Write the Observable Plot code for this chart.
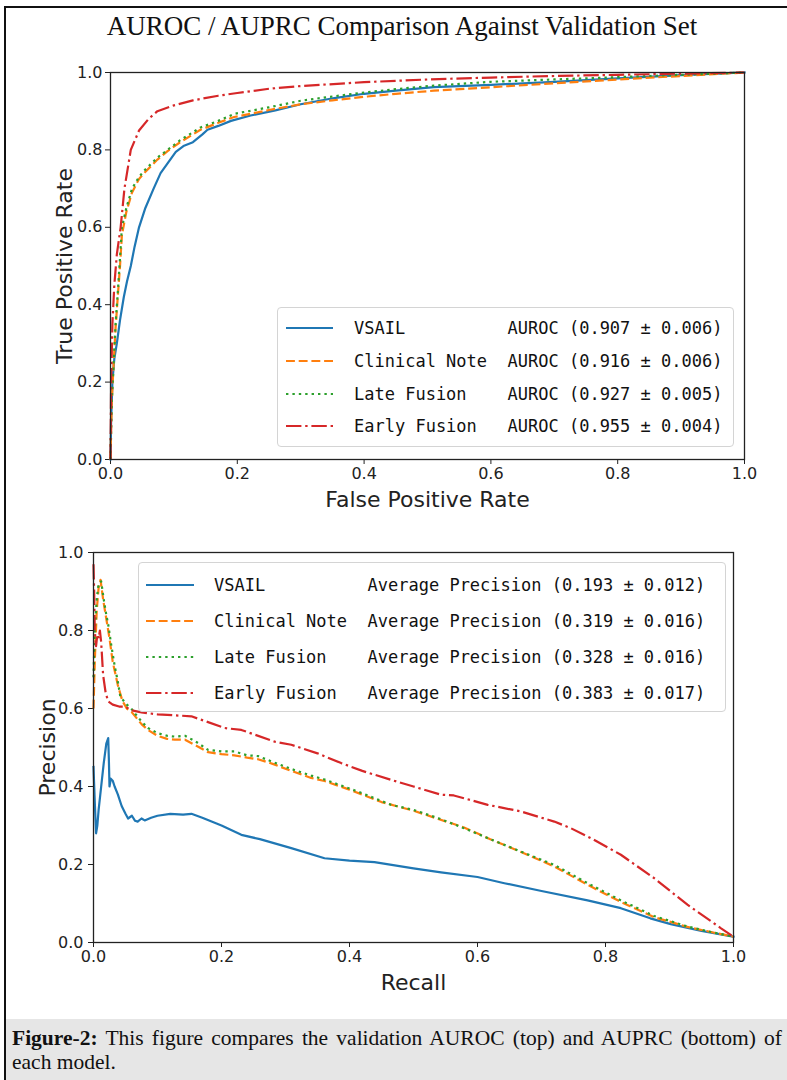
<!DOCTYPE html>
<html>
<head>
<meta charset="utf-8">
<script src="https://cdn.jsdelivr.net/npm/d3@7"></script>
<script src="https://cdn.jsdelivr.net/npm/@observablehq/plot@0.6"></script>
<style>
html, body { margin: 0; padding: 0; background: #fff; }
body { width: 787px; height: 1080px; position: relative; overflow: hidden; }
#border { position: absolute; left: 4px; top: 6px; right: -10px; bottom: -10px; border-left: 2px solid #111; border-top: 2px solid #111; }
#title { position: absolute; left: 0; width: 804px; top: 12.5px; text-align: center; white-space: nowrap;
  font-family: "Liberation Serif", serif; font-size: 27px; line-height: 27px; color: #111; }
#capbox { position: absolute; left: 6px; top: 1019px; right: 0; bottom: 0; background: #e6e6e6; }
.capline { position: absolute; left: 12px; width: 770px; font-family: "Liberation Serif", serif; font-size: 21.5px; line-height: 24px; color: #111; white-space: nowrap; }
#cap1 { top: 1025.7px; text-align: justify; text-align-last: justify; white-space: normal; }
#cap2 { top: 1049.7px; }
.chart { position: absolute; left: 0; }
.legend { position: absolute; border: 1px solid #d4d4d4; border-radius: 4px; background: rgba(255,255,255,0.85); box-sizing: border-box; }
.ltext { position: absolute; font-family: "DejaVu Sans Mono", monospace; font-size: 17px; white-space: pre; color: #111; }
</style>
</head>
<body>
<div id="border"></div>
<div id="title"></div>
<div id="roc" class="chart" style="top:50px"></div>
<div id="pr" class="chart" style="top:530px"></div>
<div id="capbox"></div>
<div id="cap1" class="capline"></div>
<div id="cap2" class="capline"></div>
<script>
// ---------- text ----------
const titleText = "AUROC / AUPRC Comparison Against Validation Set";
const captionBold = "Figure-2:";
const captionLine1 = " This figure compares the validation AUROC (top) and AUPRC (bottom) of";
const captionLine2 = "each model.";
const rocXLabel = "False Positive Rate";
const rocYLabel = "True Positive Rate";
const prXLabel = "Recall";
const prYLabel = "Precision";
const axisTicks = [0, 0.2, 0.4, 0.6, 0.8, 1.0];

// ---------- series ----------
const seriesNames = ["VSAIL", "Clinical Note", "Late Fusion", "Early Fusion"];
const seriesColors = ["#1f77b4", "#ff7f0e", "#2ca02c", "#d62728"];
const seriesDash = [null, "8.9,3.8", "2.4,4", "15.4,3.8,2.4,3.8"];
const aurocMean = [0.907, 0.916, 0.927, 0.955];
const aurocStd = [0.006, 0.006, 0.005, 0.004];
const apMean = [0.193, 0.319, 0.328, 0.383];
const apStd = [0.012, 0.016, 0.016, 0.017];

// ---------- ROC curves ----------
const rocVsailFpr = [0,0.001,0.003,0.006,0.01,0.015,0.021,0.026,0.032,0.038,0.045,0.055,0.068,0.079,0.09,0.103,0.115,0.13,0.145,0.153,0.17,0.19,0.221,0.26,0.3,0.353,0.4,0.45,0.51,0.6,0.7,0.8,0.9,1];
const rocVsailTpr = [0,0.1,0.2,0.26,0.3,0.36,0.42,0.46,0.5,0.55,0.6,0.65,0.7,0.74,0.765,0.795,0.81,0.82,0.84,0.852,0.862,0.875,0.889,0.902,0.918,0.934,0.945,0.953,0.962,0.968,0.976,0.985,0.993,1];
const rocNoteFpr = [0,0.002,0.005,0.008,0.011,0.015,0.018,0.025,0.034,0.045,0.053,0.074,0.09,0.11,0.142,0.17,0.195,0.25,0.3,0.35,0.405,0.45,0.51,0.6,0.7,0.8,0.9,1];
const rocNoteTpr = [0,0.15,0.25,0.34,0.41,0.5,0.58,0.64,0.69,0.725,0.74,0.775,0.797,0.82,0.852,0.87,0.885,0.903,0.918,0.928,0.938,0.945,0.953,0.962,0.972,0.982,0.991,1];
const rocLateFpr = [0,0.002,0.005,0.008,0.011,0.015,0.018,0.025,0.034,0.045,0.053,0.074,0.09,0.11,0.142,0.17,0.195,0.25,0.3,0.35,0.405,0.45,0.51,0.6,0.7,0.8,0.9,1];
const rocLateTpr = [0,0.15,0.25,0.35,0.42,0.52,0.6,0.65,0.7,0.73,0.746,0.78,0.8,0.825,0.858,0.875,0.893,0.91,0.927,0.938,0.949,0.957,0.966,0.976,0.982,0.988,0.994,1];
const rocEarlyFpr = [0,0.001,0.003,0.006,0.01,0.016,0.022,0.032,0.045,0.06,0.074,0.1,0.13,0.17,0.2,0.25,0.3,0.4,0.5,0.6,0.7,0.8,0.9,1];
const rocEarlyTpr = [0,0.2,0.35,0.45,0.53,0.6,0.7,0.8,0.85,0.88,0.9,0.915,0.928,0.94,0.947,0.958,0.965,0.975,0.982,0.987,0.991,0.994,0.997,1];

// ---------- PR curves ----------
const prVsailRec = [0,0.002,0.004,0.006,0.008,0.012,0.016,0.02,0.023,0.024,0.025,0.027,0.03,0.033,0.038,0.044,0.05,0.054,0.06,0.065,0.069,0.075,0.08,0.09,0.1,0.12,0.14,0.153,0.17,0.2,0.231,0.26,0.309,0.361,0.4,0.439,0.5,0.543,0.6,0.642,0.7,0.772,0.824,0.87,0.902,0.95,1];
const prVsailPrec = [0.45,0.36,0.28,0.3,0.34,0.4,0.46,0.51,0.524,0.47,0.4,0.42,0.415,0.4,0.38,0.35,0.33,0.318,0.325,0.312,0.31,0.318,0.313,0.32,0.325,0.33,0.328,0.33,0.32,0.3,0.276,0.265,0.242,0.216,0.21,0.206,0.19,0.18,0.168,0.152,0.132,0.108,0.088,0.062,0.047,0.03,0.015];
const prNoteRec = [0,0.002,0.005,0.008,0.011,0.015,0.02,0.025,0.03,0.038,0.045,0.052,0.06,0.075,0.085,0.1,0.115,0.127,0.143,0.16,0.179,0.2,0.22,0.24,0.257,0.28,0.309,0.34,0.361,0.4,0.45,0.5,0.54,0.579,0.62,0.668,0.72,0.772,0.824,0.876,0.928,0.97,1];
const prNotePrec = [0.6,0.72,0.85,0.91,0.93,0.88,0.83,0.78,0.72,0.66,0.62,0.6,0.59,0.56,0.545,0.53,0.522,0.52,0.52,0.505,0.488,0.483,0.48,0.474,0.47,0.458,0.44,0.422,0.414,0.392,0.36,0.338,0.316,0.295,0.265,0.232,0.195,0.148,0.104,0.065,0.04,0.025,0.015];
const prLateRec = [0,0.002,0.005,0.008,0.012,0.016,0.02,0.023,0.028,0.033,0.038,0.042,0.047,0.052,0.059,0.066,0.075,0.085,0.1,0.115,0.127,0.143,0.16,0.179,0.2,0.22,0.24,0.257,0.28,0.309,0.34,0.361,0.413,0.465,0.5,0.54,0.579,0.62,0.668,0.72,0.772,0.824,0.876,0.928,0.97,1];
const prLatePrec = [0.68,0.8,0.88,0.92,0.926,0.88,0.84,0.815,0.76,0.71,0.669,0.63,0.62,0.61,0.6,0.585,0.567,0.55,0.537,0.53,0.528,0.53,0.515,0.494,0.49,0.49,0.48,0.478,0.463,0.445,0.428,0.418,0.387,0.353,0.34,0.318,0.293,0.265,0.233,0.199,0.152,0.108,0.068,0.041,0.025,0.015];
const prEarlyRec = [0,0.001,0.002,0.004,0.006,0.008,0.01,0.012,0.015,0.019,0.023,0.03,0.04,0.049,0.06,0.075,0.1,0.153,0.205,0.231,0.283,0.309,0.35,0.387,0.42,0.465,0.5,0.543,0.563,0.616,0.668,0.72,0.746,0.78,0.824,0.876,0.928,0.98,1];
const prEarlyPrec = [0.97,0.9,0.8,0.76,0.79,0.78,0.8,0.77,0.686,0.64,0.618,0.61,0.605,0.605,0.595,0.59,0.585,0.58,0.55,0.545,0.515,0.507,0.485,0.46,0.44,0.417,0.4,0.379,0.377,0.353,0.336,0.31,0.293,0.265,0.225,0.165,0.097,0.037,0.015];

const rocX = [rocVsailFpr, rocNoteFpr, rocLateFpr, rocEarlyFpr];
const rocY = [rocVsailTpr, rocNoteTpr, rocLateTpr, rocEarlyTpr];
const prX = [prVsailRec, prNoteRec, prLateRec, prEarlyRec];
const prY = [prVsailPrec, prNotePrec, prLatePrec, prEarlyPrec];

const toRows = (xs, ys) => xs.map((x, j) => ({x, y: ys[j]}));
const fmt = d3.format(".1f");

function curveMarks(X, Y) {
  return seriesNames.map((name, i) => Plot.line(toRows(X[i], Y[i]), {
    x: "x", y: "y", stroke: seriesColors[i], strokeWidth: 2.2,
    strokeDasharray: seriesDash[i] || undefined,
    strokeLinecap: seriesDash[i] ? "butt" : "square", strokeLinejoin: "round"
  }));
}

function makeChart({ml, mr, mt, mb, h, X, Y, xLabel, yLabel, pad}) {
  return Plot.plot({
    width: 787, height: h,
    marginLeft: ml, marginRight: mr, marginTop: mt, marginBottom: mb,
    x: {domain: [0, 1]},
    y: {domain: [0, 1]},
    style: {fontFamily: "DejaVu Sans", fontSize: "16px", color: "#222", background: "transparent", overflow: "visible"},
    marks: [
      Plot.axisX({ticks: axisTicks, tickFormat: fmt, tickSize: 5, tickPadding: 3, label: null}),
      Plot.axisY({ticks: axisTicks, tickFormat: fmt, tickSize: 5, tickPadding: pad, label: null}),
      ...curveMarks(X, Y),
      Plot.frame({stroke: "#222", strokeWidth: 1.3}),
      Plot.text([xLabel], {text: d => d, frameAnchor: "bottom", dy: 47, lineAnchor: "bottom", textAnchor: "middle", fontSize: 22, fill: "#222"}),
      Plot.text([yLabel], {text: d => d, frameAnchor: "left", dx: -39, rotate: -90, lineAnchor: "bottom", textAnchor: "middle", fontSize: 22, fill: "#222"})
    ]
  });
}

document.getElementById("roc").append(makeChart({ml: 110, mr: 43, mt: 22, mb: 60, h: 469, X: rocX, Y: rocY, xLabel: rocXLabel, yLabel: rocYLabel, pad: 3}));
document.getElementById("pr").append(makeChart({ml: 93, mr: 54, mt: 22, mb: 60, h: 472, X: prX, Y: prY, xLabel: prXLabel, yLabel: prYLabel, pad: 5}));

// ---------- legends ----------
function makeLegend({left, top, width, height, first, pitch, sampleX, sampleW, textX, labels}) {
  const box = document.createElement("div");
  box.className = "legend";
  Object.assign(box.style, {left: left + "px", top: top + "px", width: width + "px", height: height + "px"});
  seriesNames.forEach((name, i) => {
    const cy = first + i * pitch;
    const svgNS = "http://www.w3.org/2000/svg";
    const s = document.createElementNS(svgNS, "svg");
    s.setAttribute("width", sampleW); s.setAttribute("height", 10);
    s.style.position = "absolute"; s.style.left = sampleX + "px"; s.style.top = (cy - 5) + "px";
    const ln = document.createElementNS(svgNS, "line");
    ln.setAttribute("x1", 0); ln.setAttribute("x2", sampleW); ln.setAttribute("y1", 5); ln.setAttribute("y2", 5);
    ln.setAttribute("stroke", seriesColors[i]); ln.setAttribute("stroke-width", 2.2);
    if (seriesDash[i]) ln.setAttribute("stroke-dasharray", seriesDash[i]);
    s.append(ln);
    box.append(s);
    const t = document.createElement("div");
    t.className = "ltext";
    t.textContent = name.padEnd(15) + labels[i];
    t.style.left = textX + "px";
    t.style.top = (cy - 11) + "px";
    t.style.lineHeight = "22px";
    box.append(t);
  });
  document.body.append(box);
}

makeLegend({left: 277, top: 307, width: 457, height: 140, first: 20, pitch: 32.8, sampleX: 8, sampleW: 47, textX: 76,
  labels: aurocMean.map((m, i) => `AUROC (${m.toFixed(3)} ± ${aurocStd[i].toFixed(3)})`)});
makeLegend({left: 138, top: 562, width: 588, height: 150, first: 21.5, pitch: 36.1, sampleX: 7, sampleW: 48, textX: 75,
  labels: apMean.map((m, i) => `Average Precision (${m.toFixed(3)} ± ${apStd[i].toFixed(3)})`)});

// ---------- title & caption ----------
document.getElementById("title").textContent = titleText;
const c1 = document.getElementById("cap1");
const b = document.createElement("b"); b.textContent = captionBold;
c1.append(b, document.createTextNode(captionLine1));
document.getElementById("cap2").textContent = captionLine2;
</script>
</body>
</html>
